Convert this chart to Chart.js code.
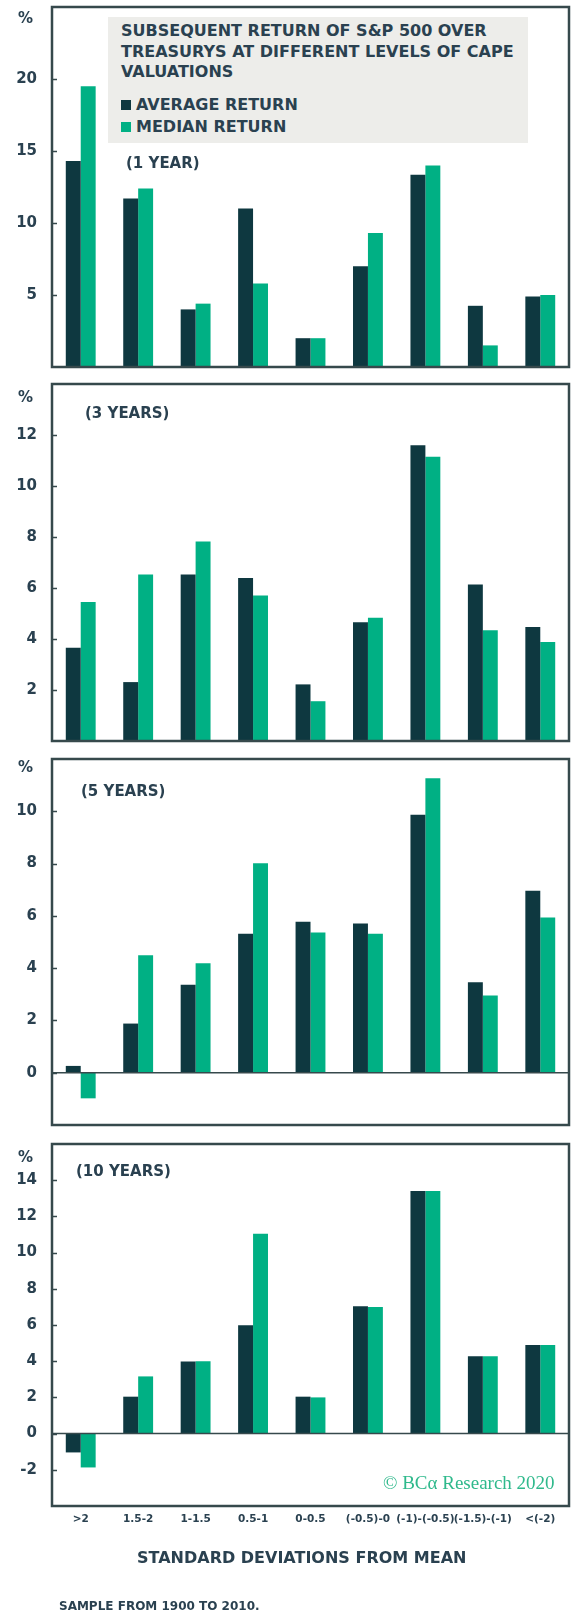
<!DOCTYPE html>
<html>
<head>
<meta charset="utf-8">
<script src="https://cdn.jsdelivr.net/npm/chart.js@4.4.0/dist/chart.umd.min.js"></script>
<style>
  body { margin: 0; background: #fff; width: 576px; height: 1614px; position: relative; overflow: hidden; }
  canvas { position: absolute; left: 0; }
  .txt { position: absolute; font-family: "DejaVu Sans", sans-serif; font-weight: bold; color: #2a4150; white-space: nowrap; }
  .pct { font-size: 15px; line-height: 18px; left: 18px; }
  .period { font-size: 15px; line-height: 18px; }
  #title-box { position: absolute; left: 108px; top: 17px; width: 420px; height: 126px; background: #ededea; }
  #title { left: 121px; top: 21px; font-size: 16px; line-height: 20.5px; }
  .leg { font-size: 16px; line-height: 20px; left: 121px; }
  .leg i { display: inline-block; width: 10px; height: 10px; margin-right: 5px; }
  #copyright { position: absolute; left: 383px; top: 1472px; font-family: "Liberation Serif", serif; font-size: 19px; line-height: 22px; color: #2fb98c; white-space: nowrap; }
</style>
</head>
<body>
<canvas id="c1" width="576" height="376" style="top:0px"></canvas>
<canvas id="c2" width="576" height="374" style="top:376px"></canvas>
<canvas id="c3" width="576" height="385" style="top:750px"></canvas>
<canvas id="c4" width="576" height="479" style="top:1135px"></canvas>

<div id="title-box"></div>
<div id="title" class="txt">SUBSEQUENT RETURN OF S&amp;P 500 OVER<br>TREASURYS AT DIFFERENT LEVELS OF CAPE<br>VALUATIONS</div>
<div class="txt leg" style="top:95px"><i style="background:#0e3840"></i>AVERAGE RETURN</div>
<div class="txt leg" style="top:117px"><i style="background:#00b084"></i>MEDIAN RETURN</div>

<div class="txt pct" style="top:9px">%</div>
<div class="txt pct" style="top:388px">%</div>
<div class="txt pct" style="top:758px">%</div>
<div class="txt pct" style="top:1148px">%</div>

<div class="txt period" style="left:126px; top:154px">(1 YEAR)</div>
<div class="txt period" style="left:85px; top:404px">(3 YEARS)</div>
<div class="txt period" style="left:81px; top:782px">(5 YEARS)</div>
<div class="txt period" style="left:76px; top:1162px">(10 YEARS)</div>

<div id="copyright">© BCα Research 2020</div>
<div class="txt" style="left:137px; top:1548px; font-size:16px; line-height:20px">STANDARD DEVIATIONS FROM MEAN</div>
<div class="txt" style="left:59px; top:1598px; font-size:12px; line-height:16px">SAMPLE FROM 1900 TO 2010.</div>

<script>
const categories = ['>2', '1.5-2', '1-1.5', '0.5-1', '0-0.5', '(-0.5)-0', '(-1)-(-0.5)', '(-1.5)-(-1)', '<(-2)'];

// subsequent excess return, %
const avg1y = [14.3, 11.7, 4.0, 11.0, 2.0, 7.0, 13.35, 4.25, 4.9];
const med1y = [19.5, 12.4, 4.4, 5.8, 2.0, 9.3, 14.0, 1.5, 5.0];
const avg3y = [3.66, 2.31, 6.53, 6.39, 2.22, 4.66, 11.6, 6.14, 4.47];
const med3y = [5.45, 6.53, 7.82, 5.71, 1.56, 4.83, 11.15, 4.34, 3.88];
const avg5y = [0.26, 1.88, 3.36, 5.32, 5.77, 5.71, 9.87, 3.46, 6.96];
const med5y = [-0.98, 4.49, 4.19, 8.01, 5.36, 5.32, 11.26, 2.95, 5.94];
const avg10y = [-1.04, 2.04, 3.99, 5.98, 2.04, 7.03, 13.4, 4.27, 4.9];
const med10y = [-1.87, 3.16, 4.0, 11.04, 2.0, 7.0, 13.4, 4.27, 4.9];

const yTicks1y = [5, 10, 15, 20];
const yTicks3y = [2, 4, 6, 8, 10, 12];
const yTicks5y = [0, 2, 4, 6, 8, 10];
const yTicks10y = [-2, 0, 2, 4, 6, 8, 10, 12, 14];

const DARK = '#0e3840';
const GREEN = '#00b084';
const INK = '#2a4150';
const FRAME = '#36494c';
const FONT = '"DejaVu Sans", sans-serif';

const framePlugin = {
    id: 'frame',
    afterDatasetsDraw(chart) {
        const { ctx, chartArea: a, scales: { y } } = chart;
        ctx.save();
        ctx.strokeStyle = FRAME;
        ctx.lineWidth = 1.5;
        ctx.beginPath();
        y.ticks.forEach(t => {
            const py = Math.round(y.getPixelForValue(t.value)) + 0.5;
            ctx.moveTo(a.left, py);
            ctx.lineTo(a.left + 5, py);
        });
        if (y.min < 0) {
            const z = y.getPixelForValue(0);
            ctx.moveTo(a.left, z);
            ctx.lineTo(a.right, z);
        }
        ctx.stroke();
        ctx.lineWidth = 2.5;
        ctx.strokeRect(a.left, a.top, a.right - a.left, a.bottom - a.top);
        ctx.restore();
    }
};

function makePanel(id, avg, med, min, max, tickList, pad, showX) {
    const xScale = {
        display: showX,
        grid: { display: false, drawTicks: false },
        border: { display: false },
        ticks: {
            autoSkip: false, maxRotation: 0, padding: 7,
            color: INK, font: { family: FONT, weight: 'bold', size: 10.5 }
        }
    };
    if (showX) {
        xScale.afterFit = s => { s.height = 30; s.paddingLeft = 0; s.paddingRight = 0; };
    }
    return new Chart(document.getElementById(id), {
        type: 'bar',
        data: {
            labels: categories,
            datasets: [
                { label: 'AVERAGE RETURN', data: avg, backgroundColor: DARK },
                { label: 'MEDIAN RETURN', data: med, backgroundColor: GREEN }
            ]
        },
        options: {
            responsive: false,
            animation: false,
            layout: { padding: { left: 0, right: 7, top: pad.top, bottom: pad.bottom } },
            datasets: { bar: { categoryPercentage: 0.52, barPercentage: 1 } },
            scales: {
                x: xScale,
                y: {
                    min: min,
                    max: max,
                    grid: { display: false, drawTicks: false },
                    border: { display: false },
                    afterBuildTicks: s => { s.ticks = tickList.map(v => ({ value: v })); },
                    ticks: {
                        padding: 15,
                        color: INK, font: { family: FONT, weight: 'bold', size: 15 }
                    },
                    afterFit: s => { s.width = 52; s.paddingTop = 0; s.paddingBottom = 0; }
                }
            },
            plugins: { legend: { display: false }, tooltip: { enabled: false } }
        },
        plugins: [framePlugin]
    });
}

makePanel('c1', avg1y, med1y, 0, 25, yTicks1y, { top: 7, bottom: 9 }, false);
makePanel('c2', avg3y, med3y, 0, 14, yTicks3y, { top: 8, bottom: 9 }, false);
makePanel('c3', avg5y, med5y, -2, 12, yTicks5y, { top: 9, bottom: 10 }, false);
makePanel('c4', avg10y, med10y, -4, 16, yTicks10y, { top: 9, bottom: 78 }, true);
</script>
</body>
</html>
